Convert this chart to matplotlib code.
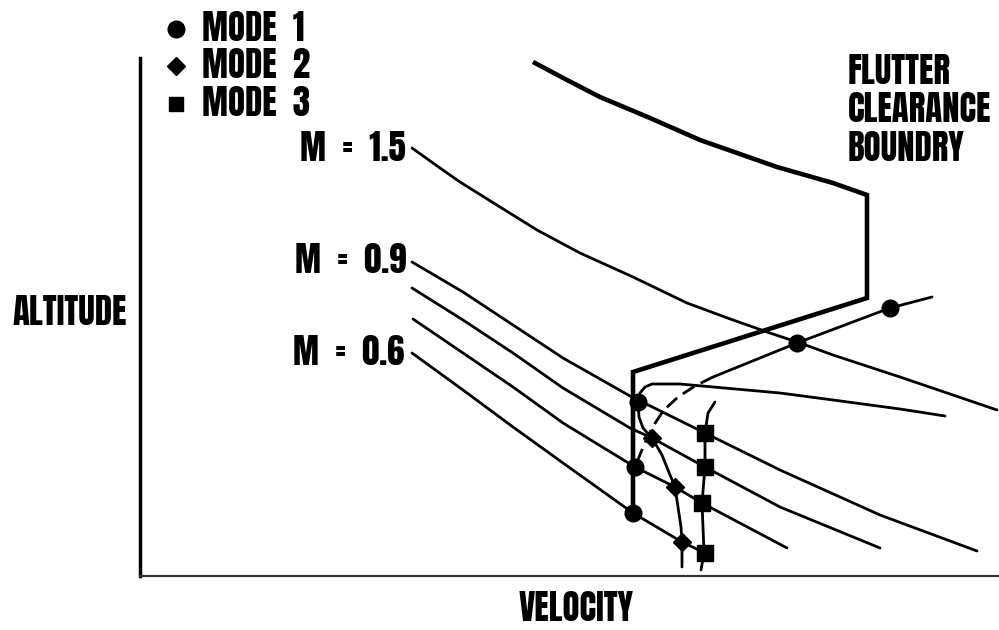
"""Flutter clearance sketch: altitude vs velocity with Mach lines and mode points."""

import matplotlib
matplotlib.use("Agg")
import matplotlib.pyplot as plt

FONT = ["Anton", "Oswald", "Roboto Condensed", "Liberation Sans Narrow", "DejaVu Sans"]
plt.rcParams["font.family"] = FONT

# velocity / altitude in arbitrary sketch units
m15_vel = [272, 300, 320, 360, 397, 440, 493, 547, 593, 630, 660, 693, 760, 810, 857]
m15_alt = [428, 408, 394, 369, 346, 323, 299, 273, 256, 243, 233, 221, 199, 182, 166]

mach_a_vel = [272, 323, 373, 423, 490, 565, 640, 740, 837]
mach_a_alt = [314, 284, 251, 218, 180, 143, 106, 61, 25]
mach_b_vel = [272, 323, 373, 423, 490, 512, 565, 640, 740]
mach_b_alt = [288, 256, 223, 188, 148, 138, 109, 69, 28]
mach_c_vel = [273, 323, 373, 423, 495, 535, 562, 647]
mach_c_alt = [257, 223, 189, 153, 109, 89, 73, 28]
mach_d_vel = [272, 323, 373, 423, 493, 542, 565, 572]
mach_d_alt = [223, 186, 149, 113, 63, 34, 23, 19]

boundary_vel = [395, 427, 460, 510, 560, 637, 693, 727, 727, 493, 493]
boundary_alt = [513, 496, 479, 458, 436, 409, 393, 381, 278, 204, 61]

mode1_line_vel = [792, 750, 657, 573]
mode1_line_alt = [279, 268, 233, 199]
mode1_dash_vel = [573, 555, 538, 523, 512, 504, 497]
mode1_dash_alt = [199, 190, 179, 165, 148, 131, 114]
mode1_hook_vel = [498, 500, 505, 512, 540, 640, 693, 760, 805]
mode1_hook_alt = [174, 183, 189, 192, 192, 183, 176, 167, 160]
mode2_line_vel = [498, 499, 503, 512, 522, 528, 535, 538, 541, 542, 542]
mode2_line_alt = [174, 159, 148, 138, 121, 106, 89, 69, 49, 34, 9]
mode3_line_vel = [575, 568, 565, 565, 562, 563, 564, 561]
mode3_line_alt = [174, 163, 143, 109, 73, 49, 23, 6]

mode1_pts_vel = [750, 657, 498, 495, 493]
mode1_pts_alt = [268, 233, 174, 109, 63]
mode2_pts_vel = [512, 535, 542]
mode2_pts_alt = [138, 89, 34]
mode3_pts_vel = [565, 565, 562, 565]
mode3_pts_alt = [143, 109, 73, 23]

mach_labels = ["M  =  1.5", "M  =  0.9", "M  =  0.6"]
mach_label_vel = [266, 266, 264]
mach_label_alt = [428, 316, 224]

W, H = 999, 630
fig = plt.figure(figsize=(W / 100, H / 100), dpi=100)
ax = fig.add_axes([140 / W, 54 / H, 859 / W, 518 / H])
ax.set_xlim(0, 859)
ax.set_ylim(0, 518)

thin = dict(color="black", lw=2.0, solid_capstyle="round")
for v, a in [(m15_vel, m15_alt), (mach_a_vel, mach_a_alt), (mach_b_vel, mach_b_alt),
             (mach_c_vel, mach_c_alt), (mach_d_vel, mach_d_alt),
             (mode1_line_vel, mode1_line_alt), (mode1_hook_vel, mode1_hook_alt),
             (mode2_line_vel, mode2_line_alt), (mode3_line_vel, mode3_line_alt)]:
    ax.plot(v, a, **thin)
ax.plot(mode1_dash_vel, mode1_dash_alt, color="black", lw=2.0, dashes=(5, 2.5))
ax.plot(boundary_vel, boundary_alt, color="black", lw=3.3, solid_joinstyle="miter")

ax.plot(mode1_pts_vel, mode1_pts_alt, "o", color="black", ms=12, ls="none",
        label="MODE  1", zorder=5)
ax.plot(mode2_pts_vel, mode2_pts_alt, "D", color="black", ms=9.5, ls="none",
        label="MODE  2", zorder=5)
ax.plot(mode3_pts_vel, mode3_pts_alt, "s", color="black", ms=11, ls="none",
        label="MODE  3", zorder=5)

txt = dict(fontsize=25, family=FONT)
for lab, v, a in zip(mach_labels, mach_label_vel, mach_label_alt):
    ax.text(v, a, lab, ha="right", va="center", **txt)
ax.text(708, 522, "FLUTTER\nCLEARANCE\nBOUNDRY", ha="left", va="top",
        linespacing=1.15, **txt)

ax.set_xticks([])
ax.set_yticks([])
for s in ("top", "right"):
    ax.spines[s].set_visible(False)
ax.spines["left"].set_linewidth(2.5)
ax.spines["bottom"].set_linewidth(1.6)
ax.spines["bottom"].set_color("#333333")

ax.set_ylabel("ALTITUDE", rotation=0, va="center", ha="center", **txt)
ax.yaxis.set_label_coords(-0.0815, 0.51)
ax.set_xlabel("VELOCITY", va="center", ha="center", **txt)
ax.xaxis.set_label_coords(0.5076, -0.062)

leg = ax.legend(loc="upper left", bbox_to_anchor=(166 / W, 1 - 11 / H),
                bbox_transform=fig.transFigure, frameon=False,
                handlelength=0.6, handletextpad=0.45, borderpad=0,
                borderaxespad=0, labelspacing=0.1, prop=dict(family=FONT, size=25))
leg.legend_handles[0].set_markersize(12)
leg.legend_handles[1].set_markersize(9)
leg.legend_handles[2].set_markersize(10)

fig.savefig("out.png", dpi=100, facecolor="white")
